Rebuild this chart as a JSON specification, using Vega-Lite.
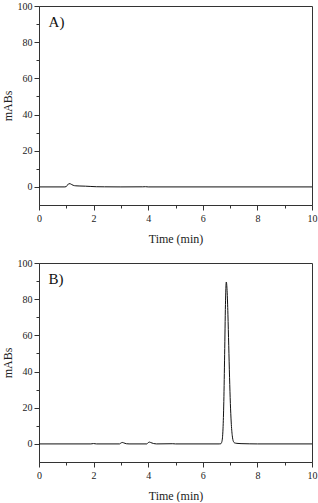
{
  "$schema": "https://vega.github.io/schema/vega-lite/v6.json",
  "padding": {"left": 0, "top": 0, "right": 5, "bottom": 0},
  "spacing": 12,
  "config": {
    "font": "Liberation Serif",
    "view": {"stroke": "#333", "strokeWidth": 1},
    "axis": {
      "labelFont": "Liberation Serif",
      "titleFont": "Liberation Serif",
      "labelFontSize": 10,
      "titleFontSize": 12,
      "titleFontWeight": "normal",
      "labelColor": "#222",
      "titleColor": "#222",
      "domainColor": "#333",
      "tickColor": "#333",
      "grid": false,
      "labelOverlap": false,
      "labelFlush": false,
      "labelBound": false
    }
  },
  "datasets": {
    "a": [
      {"t": 0, "v": 0}, {"t": 0.95, "v": 0}, {"t": 1.0, "v": 0.2}, {"t": 1.05, "v": 1.2},
      {"t": 1.1, "v": 1.8}, {"t": 1.15, "v": 1.7}, {"t": 1.2, "v": 1.3}, {"t": 1.25, "v": 0.9},
      {"t": 1.35, "v": 0.6}, {"t": 1.5, "v": 0.5}, {"t": 1.7, "v": 0.4}, {"t": 1.9, "v": 0.25},
      {"t": 2.1, "v": 0.1}, {"t": 2.4, "v": 0.05}, {"t": 3.0, "v": 0}, {"t": 3.8, "v": 0.05},
      {"t": 3.9, "v": 0.12}, {"t": 4.0, "v": 0}, {"t": 10, "v": 0}
    ],
    "b": [
      {"t": 0, "v": 0}, {"t": 1.9, "v": 0}, {"t": 2.0, "v": 0.2}, {"t": 2.1, "v": 0},
      {"t": 2.95, "v": 0}, {"t": 3.0, "v": 0.5}, {"t": 3.05, "v": 0.8}, {"t": 3.1, "v": 0.6},
      {"t": 3.2, "v": 0.1}, {"t": 3.3, "v": 0}, {"t": 3.95, "v": 0}, {"t": 4.0, "v": 0.7},
      {"t": 4.05, "v": 1.0}, {"t": 4.1, "v": 0.7}, {"t": 4.2, "v": 0.2}, {"t": 4.3, "v": 0},
      {"t": 4.9, "v": 0.1}, {"t": 5.0, "v": 0}, {"t": 6.6, "v": 0}, {"t": 6.66, "v": 0.1},
      {"t": 6.70, "v": 1.3}, {"t": 6.74, "v": 8.3}, {"t": 6.77, "v": 23.4}, {"t": 6.80, "v": 49.3},
      {"t": 6.83, "v": 77}, {"t": 6.86, "v": 89.5}, {"t": 6.89, "v": 84.7}, {"t": 6.92, "v": 71.7},
      {"t": 6.95, "v": 54.3}, {"t": 6.98, "v": 36.8}, {"t": 7.01, "v": 22.3}, {"t": 7.04, "v": 12.1},
      {"t": 7.08, "v": 4.5}, {"t": 7.12, "v": 1.4}, {"t": 7.16, "v": 0.6}, {"t": 7.25, "v": 0.3},
      {"t": 7.4, "v": 0.15}, {"t": 7.7, "v": 0.05}, {"t": 8.0, "v": 0}, {"t": 10, "v": 0}
    ],
    "labels": [
      {"panel": "A", "t": 0.35, "v": 91, "label": "A)"},
      {"panel": "B", "t": 0.35, "v": 91, "label": "B)"}
    ]
  },
  "vconcat": [
    {
      "width": 273,
      "height": 199,
      "resolve": {"axis": {"x": "independent", "y": "independent"}},
      "layer": [
        {
          "data": {"name": "a"},
          "mark": {"type": "line", "color": "#111", "strokeWidth": 1, "interpolate": "monotone"},
          "encoding": {
            "x": {"field": "t", "type": "quantitative", "scale": {"domain": [0, 10], "nice": false},
              "axis": {"orient": "bottom", "title": "Time (min)", "values": [0,2,4,6,8,10], "tickSize": 5,
                "labelPadding": 3, "titlePadding": 10}},
            "y": {"field": "v", "type": "quantitative", "scale": {"domain": [-10, 100], "nice": false},
              "axis": {"orient": "left", "title": "mABs", "values": [0,20,40,60,80,100], "tickSize": 5,
                "labelPadding": 2, "titlePadding": 3}}
          }
        },
        {
          "data": {"name": "labels"},
          "transform": [{"filter": "datum.panel === 'A'"}],
          "mark": {"type": "text", "align": "left", "baseline": "middle", "fontSize": 15, "font": "Liberation Serif", "color": "#111"},
          "encoding": {
            "x": {"field": "t", "type": "quantitative",
              "axis": {"orient": "bottom", "title": null, "labels": false, "domain": false, "values": [1,3,5,7,9], "tickSize": 3}},
            "y": {"field": "v", "type": "quantitative",
              "axis": {"orient": "left", "title": null, "labels": false, "domain": false, "values": [10,30,50,70,90], "tickSize": 3}},
            "text": {"field": "label"}
          }
        }
      ]
    },
    {
      "width": 273,
      "height": 199,
      "resolve": {"axis": {"x": "independent", "y": "independent"}},
      "layer": [
        {
          "data": {"name": "b"},
          "mark": {"type": "line", "color": "#111", "strokeWidth": 1, "interpolate": "monotone"},
          "encoding": {
            "x": {"field": "t", "type": "quantitative", "scale": {"domain": [0, 10], "nice": false},
              "axis": {"orient": "bottom", "title": "Time (min)", "values": [0,2,4,6,8,10], "tickSize": 5,
                "labelPadding": 3, "titlePadding": 10}},
            "y": {"field": "v", "type": "quantitative", "scale": {"domain": [-10, 100], "nice": false},
              "axis": {"orient": "left", "title": "mABs", "values": [0,20,40,60,80,100], "tickSize": 5,
                "labelPadding": 2, "titlePadding": 3}}
          }
        },
        {
          "data": {"name": "labels"},
          "transform": [{"filter": "datum.panel === 'B'"}],
          "mark": {"type": "text", "align": "left", "baseline": "middle", "fontSize": 15, "font": "Liberation Serif", "color": "#111"},
          "encoding": {
            "x": {"field": "t", "type": "quantitative",
              "axis": {"orient": "bottom", "title": null, "labels": false, "domain": false, "values": [1,3,5,7,9], "tickSize": 3}},
            "y": {"field": "v", "type": "quantitative",
              "axis": {"orient": "left", "title": null, "labels": false, "domain": false, "values": [10,30,50,70,90], "tickSize": 3}},
            "text": {"field": "label"}
          }
        }
      ]
    }
  ]
}
